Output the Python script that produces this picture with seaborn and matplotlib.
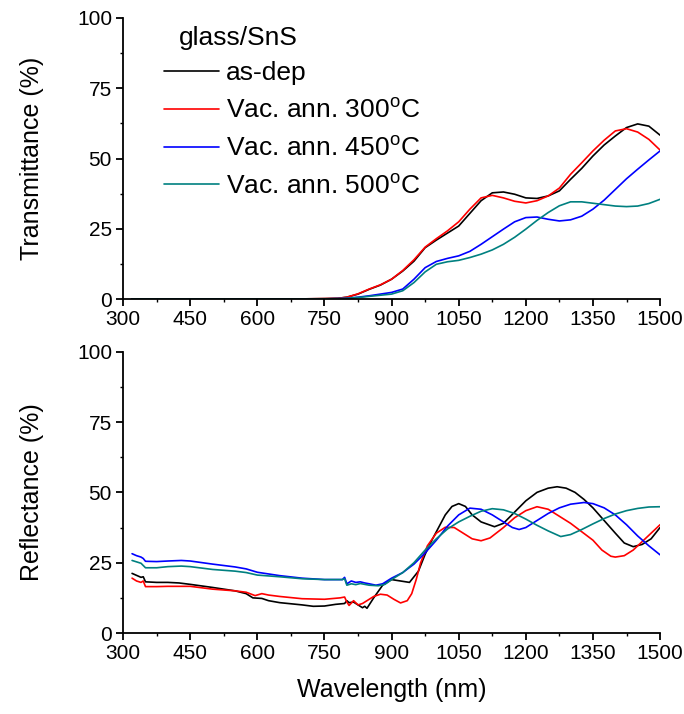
#!/usr/bin/env python3
# -*- coding: utf-8 -*-
"""
Transmittance and reflectance spectra of glass/SnS films,
as-deposited and vacuum annealed.
"""

#%%
# - Imports used
"---------------------------------------------------------------------------"

import numpy as np
import pandas as pd
import matplotlib
matplotlib.use('Agg')
import matplotlib.pyplot as plt
from matplotlib.ticker import MultipleLocator
import seaborn as sns

#%%
# - Data
"---------------------------------------------------------------------------"

sample_names = ['as-dep', 'Vac. ann. 300$^{\\rm o}$C',
                'Vac. ann. 450$^{\\rm o}$C', 'Vac. ann. 500$^{\\rm o}$C']

# Transmittance (%)
wl_T = [320, 400, 500, 600, 700, 750, 780, 800, 825, 850, 875, 900, 925, 950,
        975, 1000, 1025, 1050, 1075, 1100, 1125, 1150, 1175, 1200, 1225, 1250,
        1275, 1300, 1325, 1350, 1375, 1400, 1425, 1450, 1475, 1500]
T_asdep = [0.1, 0.1, 0.1, 0.1, 0.1, 0.2, 0.3, 0.7, 1.8, 3.5, 5.0, 7.1, 10.0, 13.5,
           18.3, 21.0, 23.5, 26.0, 30.5, 35.0, 37.8, 38.1, 37.3, 36.0, 35.8, 36.7,
           38.5, 42.6, 46.5, 50.9, 54.8, 58.0, 61.0, 62.3, 61.5, 58.3]
T_300 = [0.1, 0.1, 0.1, 0.1, 0.1, 0.2, 0.3, 0.7, 1.9, 3.6, 5.1, 7.1, 10.2, 14.0,
         18.5, 21.5, 24.3, 27.5, 32.0, 36.0, 36.9, 36.0, 34.8, 34.2, 35.0, 36.7,
         39.5, 44.4, 48.5, 52.7, 56.5, 59.8, 60.6, 59.4, 56.8, 53.0]
T_450 = [0.1, 0.1, 0.1, 0.1, 0.1, 0.1, 0.2, 0.3, 0.7, 1.2, 1.8, 2.4, 3.6, 7.1,
         11.2, 13.4, 14.5, 15.4, 17.0, 19.5, 22.2, 24.9, 27.5, 29.0, 29.2, 28.4,
         27.8, 28.2, 29.5, 32.0, 35.2, 39.0, 42.8, 46.2, 49.5, 52.7]
T_500 = [0.1, 0.1, 0.1, 0.1, 0.1, 0.1, 0.2, 0.3, 0.6, 1.0, 1.4, 1.8, 3.0, 5.9,
         9.7, 12.4, 13.3, 13.8, 14.8, 16.0, 17.5, 19.5, 22.0, 24.9, 28.0, 30.8,
         33.2, 34.6, 34.6, 34.1, 33.6, 33.1, 32.9, 33.1, 34.0, 35.5]

# Reflectance (%)
wl_R_asdep = [320, 330, 340, 345, 350, 375, 400, 425, 450, 500, 550, 575, 590,
              610, 625, 650, 700, 725, 750, 775, 795, 800, 805, 815, 825, 835,
              840, 845, 860, 880, 900, 920, 940, 960, 975, 990, 1000, 1020, 1035,
              1050, 1065, 1080, 1100, 1130, 1150, 1175, 1200, 1225, 1250, 1270,
              1290, 1310, 1330, 1350, 1375, 1400, 1420, 1440, 1460, 1480, 1500]
R_asdep = [21.2, 20.5, 19.8, 20.0, 18.2, 18.0, 18.0, 17.8, 17.3, 16.2, 15.0, 14.0,
           12.5, 12.3, 11.5, 10.8, 10.0, 9.5, 9.6, 10.2, 10.5, 11.5, 10.8, 11.0,
           10.0, 9.0, 9.5, 8.8, 12.5, 17.0, 19.0, 18.5, 18.0, 22.0, 28.0, 33.0,
           36.0, 42.0, 45.0, 46.0, 45.0, 42.0, 39.5, 37.8, 39.0, 43.0, 47.0, 50.0,
           51.5, 52.0, 51.5, 50.0, 47.5, 44.5, 40.0, 35.5, 32.0, 30.7, 31.5, 33.5,
           37.5]

wl_R_300 = [320, 330, 340, 345, 350, 375, 400, 450, 500, 550, 575, 595, 610, 625,
            650, 700, 750, 785, 795, 800, 805, 815, 825, 835, 845, 860, 875, 890,
            905, 920, 935, 945, 955, 965, 980, 1000, 1020, 1040, 1060, 1080, 1100,
            1120, 1150, 1175, 1200, 1225, 1250, 1275, 1300, 1325, 1350, 1370, 1390,
            1400, 1420, 1440, 1460, 1480, 1500]
R_300 = [19.5, 18.5, 18.0, 18.5, 16.5, 16.5, 16.6, 16.6, 15.6, 15.0, 14.5, 13.3,
         14.0, 13.5, 13.0, 12.2, 12.0, 12.5, 12.8, 11.0, 9.8, 11.5, 10.0, 10.5,
         11.5, 13.0, 13.8, 13.5, 12.0, 10.7, 11.5, 14.0, 19.0, 25.0, 31.0, 35.5,
         37.6, 37.5, 35.5, 33.5, 32.8, 33.8, 37.5, 41.0, 43.5, 44.9, 44.0, 41.5,
         39.0, 36.0, 33.0, 29.5, 27.3, 27.0, 27.5, 29.5, 32.5, 35.5, 38.5]

wl_R_450 = [320, 330, 340, 345, 350, 375, 400, 430, 450, 500, 550, 575, 600, 625,
            650, 700, 750, 790, 795, 800, 810, 820, 830, 840, 850, 865, 880, 900,
            925, 950, 975, 1000, 1025, 1050, 1075, 1100, 1125, 1150, 1170, 1185,
            1200, 1225, 1250, 1275, 1300, 1330, 1350, 1375, 1400, 1425, 1450, 1475,
            1500]
R_450 = [28.2, 27.5, 27.0, 26.5, 25.5, 25.4, 25.6, 25.8, 25.6, 24.5, 23.5, 22.8,
         21.6, 21.0, 20.4, 19.5, 19.0, 19.0, 19.8, 17.5, 18.5, 18.0, 18.2, 17.8,
         17.5, 17.0, 17.5, 19.5, 21.5, 24.5, 28.5, 33.0, 38.0, 42.0, 44.4, 44.0,
         42.0, 39.5, 37.5, 36.8, 37.5, 40.0, 42.5, 44.5, 45.8, 46.4, 46.0, 44.5,
         42.0, 38.5, 34.5, 31.0, 27.8]

wl_R_500 = [320, 330, 340, 350, 375, 400, 430, 450, 500, 550, 575, 600, 650, 700,
            750, 790, 795, 800, 810, 820, 830, 840, 850, 870, 885, 900, 925, 950,
            975, 1000, 1025, 1050, 1075, 1100, 1125, 1150, 1175, 1200, 1225, 1250,
            1278, 1300, 1325, 1350, 1375, 1400, 1425, 1450, 1475, 1500]
R_500 = [25.8, 25.3, 24.8, 23.2, 23.2, 23.6, 23.8, 23.6, 22.6, 22.0, 21.5, 20.6,
         20.0, 19.3, 19.0, 19.0, 19.3, 17.0, 17.5, 17.2, 17.6, 17.3, 17.0, 16.8,
         17.3, 19.0, 21.5, 25.0, 29.5, 33.5, 37.0, 39.5, 41.5, 43.3, 44.2, 43.8,
         42.5, 40.5, 38.3, 36.3, 34.3, 35.0, 36.8, 38.8, 40.7, 42.3, 43.5, 44.3,
         44.8, 44.9]

line_colors = ['black', '#ff0000', '#0000ff', '#008080']

#%%
# - Plot settings
"---------------------------------------------------------------------------"

sns.set_style('ticks')
plt.rcParams['font.family'] = ['Liberation Sans', 'DejaVu Sans']
plt.rcParams['mathtext.fontset'] = 'custom'
plt.rcParams['mathtext.rm'] = 'Liberation Sans'
for key in ['text.color', 'axes.labelcolor', 'xtick.color', 'ytick.color',
            'axes.edgecolor']:
    plt.rcParams[key] = 'black'

fig = plt.figure(figsize=(6.84, 7.14), dpi=100)
ax1 = fig.add_axes([0.180, 0.581, 0.785, 0.394])
ax2 = fig.add_axes([0.180, 0.1134, 0.785, 0.394])


def style_axis(ax, ylabel):
    ax.set_xlim(300, 1500)
    ax.set_ylim(0, 100)
    ax.xaxis.set_major_locator(MultipleLocator(150))
    ax.xaxis.set_minor_locator(MultipleLocator(75))
    ax.yaxis.set_major_locator(MultipleLocator(25))
    ax.yaxis.set_minor_locator(MultipleLocator(12.5))
    for side in ['top', 'right']:
        ax.spines[side].set_visible(False)
    for side in ['left', 'bottom']:
        ax.spines[side].set_linewidth(1.3)
    ax.tick_params(which='major', direction='out', length=5, width=1.3,
                   labelsize=15, pad=3)
    ax.tick_params(which='minor', direction='out', length=2.5, width=1.0)
    ax.set_ylabel(ylabel, fontsize=18, labelpad=24)
    ax.set_facecolor('white')


#%%
# - Transmittance panel
"---------------------------------------------------------------------------"

T_series = [T_asdep, T_300, T_450, T_500]
for name, T, col in zip(sample_names, T_series, line_colors):
    df = pd.DataFrame({'wl': wl_T, 'val': T})
    sns.lineplot(data=df, x='wl', y='val', color=col, lw=1.2, label=name,
                 estimator=None, sort=False, ax=ax1)

style_axis(ax1, 'Transmittance (%)')
ax1.set_xlabel('')

leg = ax1.legend(loc='upper left', bbox_to_anchor=(164 / 684, 1 - 61 / 714),
                 bbox_transform=fig.transFigure, frameon=False, fontsize=19,
                 handlelength=2.1, handletextpad=0.25, labelspacing=0.5,
                 borderpad=0, borderaxespad=0)
fig.text(179 / 684, 1 - 38 / 714, 'glass/SnS', fontsize=19, va='center', ha='left')

#%%
# - Reflectance panel
"---------------------------------------------------------------------------"

R_wl = [wl_R_asdep, wl_R_300, wl_R_450, wl_R_500]
R_series = [R_asdep, R_300, R_450, R_500]
for wl, R, col in zip(R_wl, R_series, line_colors):
    df = pd.DataFrame({'wl': wl, 'val': R})
    sns.lineplot(data=df, x='wl', y='val', color=col, lw=1.2,
                 estimator=None, sort=False, ax=ax2)

style_axis(ax2, 'Reflectance (%)')
ax2.set_xlabel('Wavelength (nm)', fontsize=18, labelpad=11)

fig.savefig('out.png', dpi=100, facecolor='white')
